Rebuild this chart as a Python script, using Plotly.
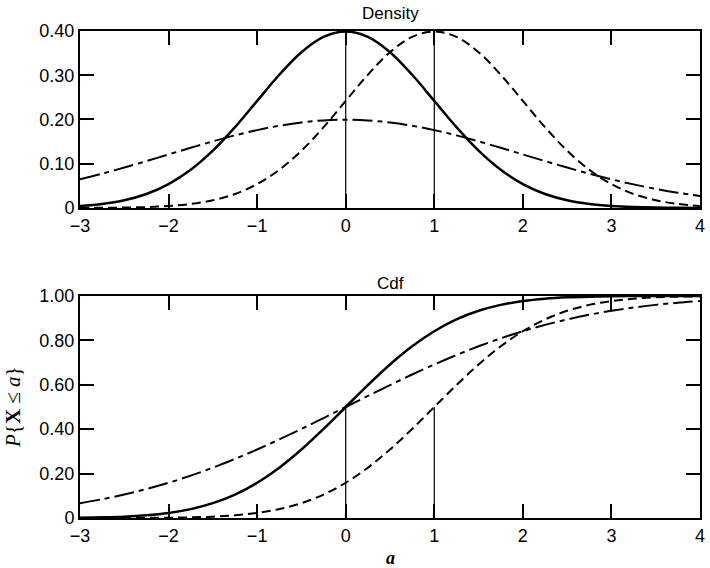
import plotly.graph_objects as go
from plotly.subplots import make_subplots

# x grid
a_vals = [-3.0, -2.75, -2.5, -2.25, -2.0, -1.75, -1.5, -1.25, -1.0, -0.75, -0.5, -0.25,
          0.0, 0.25, 0.5, 0.75, 1.0, 1.25, 1.5, 1.75, 2.0, 2.25, 2.5, 2.75, 3.0,
          3.25, 3.5, 3.75, 4.0]

# Density curves
dens_solid = [0.0044, 0.0091, 0.0175, 0.0317, 0.0540, 0.0863, 0.1295, 0.1826, 0.2420,
              0.3011, 0.3521, 0.3867, 0.3989, 0.3867, 0.3521, 0.3011, 0.2420, 0.1826,
              0.1295, 0.0863, 0.0540, 0.0317, 0.0175, 0.0091, 0.0044, 0.0020, 0.0009,
              0.0004, 0.0001]
dens_dash = [0.0001, 0.0004, 0.0009, 0.0020, 0.0044, 0.0091, 0.0175, 0.0317, 0.0540,
             0.0863, 0.1295, 0.1826, 0.2420, 0.3011, 0.3521, 0.3867, 0.3989, 0.3867,
             0.3521, 0.3011, 0.2420, 0.1826, 0.1295, 0.0863, 0.0540, 0.0317, 0.0175,
             0.0091, 0.0044]
dens_dashdot = [0.0648, 0.0775, 0.0913, 0.1059, 0.1210, 0.1360, 0.1506, 0.1641, 0.1760,
                0.1859, 0.1933, 0.1979, 0.1995, 0.1979, 0.1933, 0.1859, 0.1760, 0.1641,
                0.1506, 0.1360, 0.1210, 0.1059, 0.0913, 0.0775, 0.0648, 0.0533, 0.0431,
                0.0344, 0.0270]

# Cdf curves
cdf_solid = [0.0013, 0.0030, 0.0062, 0.0122, 0.0228, 0.0401, 0.0668, 0.1056, 0.1587,
             0.2266, 0.3085, 0.4013, 0.5000, 0.5987, 0.6915, 0.7734, 0.8413, 0.8944,
             0.9332, 0.9599, 0.9772, 0.9878, 0.9938, 0.9970, 0.9987, 0.9994, 0.9998,
             0.9999, 1.0000]
cdf_dash = [0.0000, 0.0001, 0.0002, 0.0006, 0.0013, 0.0030, 0.0062, 0.0122, 0.0228,
            0.0401, 0.0668, 0.1056, 0.1587, 0.2266, 0.3085, 0.4013, 0.5000, 0.5987,
            0.6915, 0.7734, 0.8413, 0.8944, 0.9332, 0.9599, 0.9772, 0.9878, 0.9938,
            0.9970, 0.9987]
cdf_dashdot = [0.0668, 0.0846, 0.1056, 0.1303, 0.1587, 0.1908, 0.2266, 0.2660, 0.3085,
               0.3538, 0.4013, 0.4503, 0.5000, 0.5497, 0.5987, 0.6462, 0.6915, 0.7340,
               0.7734, 0.8092, 0.8413, 0.8697, 0.8944, 0.9154, 0.9332, 0.9479, 0.9599,
               0.9696, 0.9772]

means = [0.0, 1.0]

x_ticks = [-3, -2, -1, 0, 1, 2, 3, 4]
x_ticktext = ["\u22123", "\u22122", "\u22121", "0", "1", "2", "3", "4"]
y1_ticks = [0, 0.1, 0.2, 0.3, 0.4]
y1_ticktext = ["0", "0.10", "0.20", "0.30", "0.40"]
y2_ticks = [0, 0.2, 0.4, 0.6, 0.8, 1.0]
y2_ticktext = ["0", "0.20", "0.40", "0.60", "0.80", "1.00"]

fig = make_subplots(rows=2, cols=1)

styles = [
    dict(color="black", width=2.5, dash="solid"),
    dict(color="black", width=2, dash="9px,5px"),
    dict(color="black", width=2, dash="20px,5px,5px,5px"),
]

for row, series in ((1, [dens_solid, dens_dash, dens_dashdot]),
                    (2, [cdf_solid, cdf_dash, cdf_dashdot])):
    for ys, st in zip(series, styles):
        fig.add_trace(go.Scatter(x=a_vals, y=ys, mode="lines", line=st,
                                 line_shape="spline", showlegend=False,
                                 hoverinfo="skip"), row=row, col=1)
    # vertical lines at the means, up to the matching curve
    for m, ys in zip(means, series[:2]):
        yv = ys[a_vals.index(m)]
        fig.add_trace(go.Scatter(x=[m, m], y=[0, yv], mode="lines",
                                 line=dict(color="black", width=1.2),
                                 showlegend=False, hoverinfo="skip"), row=row, col=1)

sans = "Liberation Sans, Arial, sans-serif"
serif = "Liberation Serif, DejaVu Serif, serif"
tick_font = dict(family=sans, size=18, color="black")

for r in (1, 2):
    fig.update_xaxes(range=[-3, 4], tickvals=x_ticks, ticktext=x_ticktext,
                     ticks="inside", ticklen=14, tickwidth=1.5, tickcolor="black",
                     showline=True, linecolor="black", linewidth=2, mirror="ticks",
                     showgrid=False, zeroline=False, tickfont=tick_font,
                     ticklabeloverflow="allow", row=r, col=1)

fig.update_yaxes(range=[0, 0.4], tickvals=y1_ticks, ticktext=y1_ticktext, row=1, col=1)
fig.update_yaxes(range=[0, 1.0], tickvals=y2_ticks, ticktext=y2_ticktext, row=2, col=1)
fig.update_yaxes(ticks="inside", ticklen=14, tickwidth=1.5, tickcolor="black",
                 showline=True, linecolor="black", linewidth=2, mirror="ticks",
                 showgrid=False, zeroline=False, tickfont=tick_font)

H = 568 - 31 - 50

fig.update_layout(
    width=710, height=568,
    margin=dict(l=80, r=5, t=31, b=50),
    plot_bgcolor="white", paper_bgcolor="white",
    xaxis=dict(domain=[0, 1]), yaxis=dict(domain=[0.6366, 1.0]),
    xaxis2=dict(domain=[0, 1]), yaxis2=dict(domain=[0.0, 0.4559]),
    annotations=[
        dict(text="Density", x=0.5, y=1 + (31 - 14) / H, xref="paper", yref="paper",
             yanchor="middle", showarrow=False,
             font=dict(family=sans, size=17, color="black")),
        dict(text="Cdf", x=0.5, y=1 - (283 - 31) / H, xref="paper", yref="paper",
             yanchor="middle", showarrow=False,
             font=dict(family=sans, size=17, color="black")),
        dict(text="<i>P</i>{<b>X</b> \u2264 <i>a</i>}", x=0, y=0.2279, xref="paper",
             yref="paper", textangle=-90, showarrow=False, xanchor="center",
             yanchor="middle", xshift=-67,
             font=dict(family=serif, size=21, color="black")),
        dict(text="<b><i>a</i></b>", x=0.5, y=0, xref="paper", yref="paper", showarrow=False,
             yanchor="middle", yshift=-40,
             font=dict(family=serif, size=18, color="black")),
    ],
)

fig.write_html("out.html")
